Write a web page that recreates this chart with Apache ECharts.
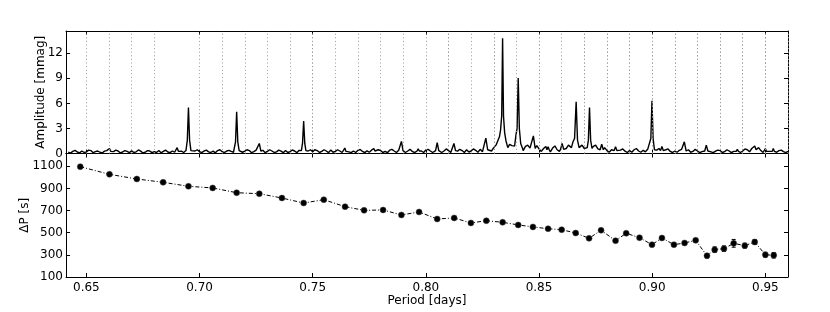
<!DOCTYPE html>
<html>
<head>
<meta charset="utf-8">
<script src="https://cdn.jsdelivr.net/npm/echarts@6/dist/echarts.min.js"></script>
<style>
html,body{margin:0;padding:0;background:#fff;}
#chart{width:830px;height:312px;}
</style>
</head>
<body>
<div id="chart"></div>
<script>
// ---------------- data ----------------
// Bottom panel: mode periods [days] and period spacing [s]
const periods = [0.6473,0.6602,0.6723,0.6839,0.6951,0.7058,0.7164,0.7264,0.7364,0.7460,
  0.7549,0.7643,0.7727,0.7811,0.7892,0.7970,0.8050,0.8125,0.8199,0.8267,
  0.8339,0.8408,0.8473,0.8540,0.8600,0.8662,0.8721,0.8774,0.8838,0.8885,
  0.8944,0.8999,0.9043,0.9096,0.9143,0.9192,0.9242,0.9276,0.9317,0.9360,
  0.9409,0.9453,0.9500,0.9537];
const deltaP = [1096,1027,985,955,919,904,861,852,813,768,
  798,735,702,705,660,687,624,633,588,608,
  594,570,552,536,527,497,449,522,428,495,
  455,392,452,392,407,431,292,347,356,404,
  383,416,301,296];
const deltaPErr = [8,8,8,8,8,8,8,8,8,8,
  8,8,8,8,8,8,8,8,8,8,
  8,8,8,8,8,8,10,10,10,10,
  10,10,12,14,14,15,20,25,25,35,
  22,22,22,25];
// Last mode (end of the sequence), also marked in the top panel
const lastModePeriod = 0.9571;

// Tick labels
const xTicks = [0.65,0.70,0.75,0.80,0.85,0.90,0.95];
const ampTicks = [0,3,6,9,12];
const dpTicks = [100,300,500,700,900,1100];

// Top panel: amplitude spectrum [period, amplitude (mmag)] - noise floor
const spectrumNoise = [
 [0.642,0.15],[0.644,0.25],[0.646,0.18],[0.648,0.30],[0.650,0.20],[0.652,0.35],[0.654,0.22],[0.656,0.15],[0.658,0.28],[0.660,0.20],
 [0.662,0.22],[0.664,0.30],[0.666,0.18],[0.668,0.25],[0.670,0.32],[0.672,0.20],[0.674,0.28],[0.676,0.15],[0.678,0.30],[0.680,0.22],
 [0.682,0.35],[0.684,0.25],[0.686,0.18],[0.688,0.30],[0.690,0.25],[0.692,0.28],[0.694,0.35],[0.696,0.40],[0.698,0.30],[0.700,0.22],
 [0.702,0.30],[0.704,0.20],[0.706,0.28],[0.708,0.35],[0.710,0.22],[0.712,0.30],[0.714,0.25],[0.716,0.35],[0.718,0.40],[0.720,0.28],
 [0.722,0.35],[0.724,0.22],[0.726,0.30],[0.728,0.38],[0.730,0.25],[0.732,0.30],[0.734,0.20],[0.736,0.28],[0.738,0.35],[0.740,0.22],
 [0.742,0.30],[0.744,0.38],[0.746,0.40],[0.748,0.30],[0.750,0.22],[0.752,0.35],[0.754,0.25],[0.756,0.30],[0.758,0.42],[0.760,0.25],
 [0.762,0.30],[0.764,0.35],[0.766,0.20],[0.768,0.30],[0.770,0.38],[0.772,0.25],[0.774,0.32],[0.776,0.40],[0.778,0.28],[0.780,0.35],
 [0.782,0.25],[0.784,0.40],[0.786,0.30],[0.788,0.38],[0.790,0.45],[0.792,0.30],[0.794,0.25],[0.796,0.38],[0.798,0.30],[0.800,0.42],
 [0.802,0.30],[0.804,0.38],[0.806,0.45],[0.808,0.30],[0.810,0.35],[0.812,0.40],[0.814,0.28],[0.816,0.35],[0.818,0.45],[0.820,0.30],
 [0.822,0.38],[0.824,0.50],[0.826,0.45],[0.828,0.55],[0.830,0.70],[0.832,0.90],[0.834,0.80],[0.836,0.75],[0.838,0.95],[0.840,0.80],
 [0.842,0.70],[0.844,0.85],[0.846,0.65],[0.848,0.70],[0.850,0.55],[0.852,0.60],[0.854,0.50],[0.856,0.65],[0.858,0.45],[0.860,0.70],
 [0.862,0.60],[0.864,0.80],[0.866,0.90],[0.868,0.75],[0.870,0.60],[0.872,0.70],[0.874,0.85],[0.876,0.55],[0.878,0.45],[0.880,0.35],
 [0.882,0.45],[0.884,0.30],[0.886,0.40],[0.888,0.28],[0.890,0.35],[0.892,0.45],[0.894,0.30],[0.896,0.38],[0.898,0.50],[0.900,0.55],
 [0.902,0.40],[0.904,0.35],[0.906,0.45],[0.908,0.25],[0.910,0.30],[0.912,0.38],[0.914,0.30],[0.916,0.45],[0.918,0.25],[0.920,0.30],
 [0.922,0.22],[0.924,0.35],[0.926,0.20],[0.928,0.28],[0.930,0.35],[0.932,0.22],[0.934,0.30],[0.936,0.25],[0.938,0.40],[0.940,0.30],
 [0.942,0.45],[0.944,0.60],[0.946,0.50],[0.948,0.35],[0.950,0.30],[0.952,0.25],[0.954,0.30],[0.956,0.35],[0.958,0.22],[0.960,0.25]
];
// finer jitter of the noise floor between the samples above
const spectrumNoiseFine = [
 [0.643,0.05],[0.645,0.38],[0.647,0.08],[0.649,0.12],[0.651,0.40],[0.653,0.10],[0.655,0.30],[0.657,0.06],[0.659,0.35],[0.661,0.10],
 [0.663,0.40],[0.665,0.08],[0.667,0.35],[0.669,0.10],[0.671,0.12],[0.673,0.42],[0.675,0.06],[0.677,0.35],[0.679,0.10],[0.681,0.12],
 [0.683,0.08],[0.685,0.40],[0.687,0.10],[0.689,0.15],[0.691,0.45],[0.693,0.12],[0.697,0.15],[0.699,0.45],[0.701,0.10],[0.703,0.40],
 [0.705,0.12],[0.707,0.08],[0.709,0.45],[0.711,0.10],[0.713,0.38],[0.715,0.15],[0.717,0.12],[0.719,0.15],[0.721,0.45],[0.723,0.10],
 [0.725,0.40],[0.727,0.12],[0.729,0.10],[0.731,0.45],[0.733,0.12],[0.735,0.40],[0.737,0.10],[0.739,0.12],[0.741,0.42],[0.743,0.10],
 [0.745,0.15],[0.747,0.12],[0.749,0.45],[0.751,0.10],[0.753,0.12],[0.755,0.45],[0.757,0.10],[0.759,0.15],[0.761,0.45],[0.763,0.12],
 [0.765,0.40],[0.767,0.10],[0.769,0.12],[0.771,0.48],[0.773,0.10],[0.775,0.15],[0.777,0.12],[0.779,0.45],[0.781,0.12],[0.783,0.10],
 [0.785,0.50],[0.787,0.12],[0.789,0.15],[0.791,0.12],[0.793,0.50],[0.795,0.10],[0.797,0.15],[0.799,0.12],[0.801,0.50],[0.803,0.12],
 [0.805,0.15],[0.807,0.12],[0.809,0.55],[0.811,0.12],[0.813,0.15],[0.815,0.50],[0.817,0.12],[0.819,0.18],[0.821,0.55],[0.823,0.15],
 [0.825,0.20],[0.827,0.25],[0.829,0.30],[0.831,1.00],[0.833,0.45],[0.835,0.40],[0.837,1.10],[0.839,0.45],[0.841,1.00],[0.843,0.35],
 [0.845,1.00],[0.847,0.30],[0.849,0.95],[0.851,0.25],[0.853,0.85],[0.855,0.20],[0.857,0.90],[0.859,0.25],[0.861,0.30],[0.863,1.00],
 [0.865,0.40],[0.867,0.45],[0.869,1.00],[0.871,0.30],[0.873,0.35],[0.875,1.00],[0.877,0.25],[0.879,0.70],[0.881,0.15],[0.883,0.60],
 [0.885,0.15],[0.887,0.55],[0.889,0.12],[0.891,0.15],[0.893,0.60],[0.895,0.15],[0.897,0.20],[0.899,0.25],[0.901,0.20],[0.903,0.60],
 [0.905,0.15],[0.907,0.55],[0.909,0.12],[0.911,0.15],[0.913,0.50],[0.915,0.12],[0.917,0.15],[0.919,0.50],[0.921,0.10],[0.923,0.12],
 [0.925,0.45],[0.927,0.10],[0.929,0.40],[0.931,0.12],[0.933,0.45],[0.935,0.10],[0.937,0.15],[0.939,0.12],[0.941,0.55],[0.943,0.20],
 [0.945,0.25],[0.947,0.70],[0.949,0.12],[0.951,0.45],[0.953,0.10],[0.955,0.15],[0.957,0.40],[0.959,0.10]
];
// Top panel: spectral peaks [period, amplitude]
const spectrumPeaks = [
 [[0.6596,0.25],[0.6602,0.60],[0.6608,0.25]],
 [[0.6895,0.25],[0.6901,0.70],[0.6907,0.25]],
 [[0.6940,0.35],[0.6946,1.6],[0.6951,5.50],[0.6956,1.6],[0.6962,0.35]],
 [[0.7153,0.35],[0.7159,1.4],[0.7164,5.00],[0.7169,1.4],[0.7175,0.35]],
 [[0.7257,0.30],[0.7264,1.20],[0.7271,0.30]],
 [[0.7450,0.35],[0.7455,1.2],[0.7460,3.90],[0.7465,1.2],[0.7470,0.35]],
 [[0.7505,0.25],[0.7509,0.45],[0.7513,0.25]],
 [[0.7637,0.25],[0.7642,0.65],[0.7647,0.25]],
 [[0.7765,0.30],[0.7770,0.60],[0.7775,0.30]],
 [[0.7885,0.35],[0.7892,1.45],[0.7899,0.35]],
 [[0.7961,0.30],[0.7966,0.55],[0.7971,0.30]],
 [[0.8043,0.35],[0.8050,1.30],[0.8057,0.35]],
 [[0.8117,0.35],[0.8124,1.20],[0.8131,0.35]],
 [[0.8257,0.40],[0.8265,1.85],[0.8273,0.45]],
 [[0.8318,0.80],[0.8325,2.00],[0.8330,2.80],[0.8335,4.5],[0.8339,13.8],[0.8343,4.5],[0.8348,2.5],[0.8354,1.5],[0.8362,0.7]],
 [[0.8392,0.9],[0.8398,2.20],[0.8403,3.0],[0.8408,9.05],[0.8413,3.0],[0.8419,1.2],[0.8426,0.7]],
 [[0.8467,0.6],[0.8475,2.10],[0.8483,0.6]],
 [[0.8535,0.45],[0.8540,0.80],[0.8545,0.45]],
 [[0.8595,0.5],[0.8602,1.20],[0.8609,0.5]],
 [[0.8643,0.7],[0.8650,1.40],[0.8657,1.8],[0.8664,6.20],[0.8670,1.6],[0.8677,0.7]],
 [[0.8713,0.7],[0.8718,1.6],[0.8723,5.50],[0.8728,1.6],[0.8734,0.6]],
 [[0.8770,0.45],[0.8777,1.10],[0.8784,0.45]],
 [[0.8832,0.35],[0.8838,0.80],[0.8844,0.35]],
 [[0.8988,0.50],[0.8994,1.8],[0.8999,6.30],[0.9004,1.8],[0.9010,0.45]],
 [[0.9037,0.35],[0.9043,0.85],[0.9049,0.35]],
 [[0.9134,0.30],[0.9142,1.40],[0.9150,0.30]],
 [[0.9232,0.30],[0.9239,1.00],[0.9246,0.30]],
 [[0.9371,0.25],[0.9376,0.50],[0.9381,0.25]],
 [[0.9447,0.45],[0.9453,0.90],[0.9459,0.45]],
 [[0.9495,0.25],[0.9500,0.60],[0.9505,0.25]],
 [[0.9530,0.25],[0.9535,0.60],[0.9540,0.25]]
];

// ---------------- build ----------------
function buildSpectrum() {
  const spans = spectrumPeaks.map(g => [g[0][0], g[g.length - 1][0]]);
  const noise = spectrumNoise.concat(spectrumNoiseFine);
  const pts = noise.filter(p => !spans.some(s => p[0] >= s[0] - 0.0003 && p[0] <= s[1] + 0.0003)).map(p => p.slice());
  spectrumPeaks.forEach(g => g.forEach(p => pts.push(p.slice())));
  pts.sort((a, b) => a[0] - b[0]);
  return pts;
}
const spectrum = buildSpectrum();
const dpData = periods.map((p, i) => [p, deltaP[i]]);
const errData = periods.map((p, i) => [p, deltaP[i] - deltaPErr[i], deltaP[i] + deltaPErr[i]]);
const modeLines = periods.concat([lastModePeriod]).map(p => ({ xAxis: p }));

const FONT = 'DejaVu Sans';
const XMIN = 0.641, XMAX = 0.96;
const black = '#000';

function xAx(grid, pos, labels) {
  return {
    type: 'value', gridIndex: grid, position: pos, min: XMIN, max: XMAX,
    axisLine: { show: true, onZero: false, lineStyle: { color: black, width: 1 } },
    axisTick: { show: true, inside: true, length: 4, lineStyle: { color: black }, customValues: xTicks },
    axisLabel: labels ? { show: true, customValues: xTicks, formatter: v => v.toFixed(2), color: black, fontFamily: FONT, fontSize: 12, margin: 5 } : { show: false },
    splitLine: { show: false }
  };
}
function yAx(grid, pos, min, max, ticks, labels, name, gap) {
  const a = {
    type: 'value', gridIndex: grid, position: pos, min: min, max: max,
    axisLine: { show: true, onZero: false, lineStyle: { color: black, width: 1 } },
    axisTick: { show: true, inside: true, length: 4, lineStyle: { color: black }, customValues: ticks },
    axisLabel: labels ? { show: true, customValues: ticks, formatter: v => String(v), color: black, fontFamily: FONT, fontSize: 12, margin: 3 } : { show: false },
    splitLine: { show: false }
  };
  if (name) {
    a.name = name; a.nameLocation = 'middle'; a.nameRotate = 90; a.nameGap = gap;
    a.nameMoveOverlap = false;
    a.nameTextStyle = { color: black, fontFamily: FONT, fontSize: 12 };
  }
  return a;
}

const xAxes = [xAx(0, 'bottom', false), xAx(0, 'top', false), xAx(1, 'bottom', true), xAx(1, 'top', false)];
xAxes[2].name = 'Period [days]';
xAxes[2].nameLocation = 'middle';
xAxes[2].nameGap = 18;
xAxes[2].nameMoveOverlap = false;
xAxes[2].nameTextStyle = { color: black, fontFamily: FONT, fontSize: 12, verticalAlign: 'top' };

const chart = echarts.init(document.getElementById('chart'), null, { renderer: 'canvas' });
chart.setOption({
  animation: false,
  backgroundColor: '#fff',
  grid: [
    { left: 66, right: 42, top: 31, height: 122.5 },
    { left: 66, right: 42, top: 153.5, height: 123.5 }
  ],
  xAxis: xAxes,
  yAxis: [
    yAx(0, 'left', 0, 14.67, ampTicks, true, 'Amplitude [mmag]', 19),
    yAx(0, 'right', 0, 14.67, ampTicks, false),
    yAx(1, 'left', 100, 1215, dpTicks, true, 'ΔP [s]', 35),
    yAx(1, 'right', 100, 1215, dpTicks, false)
  ],
  series: [
    {
      type: 'line', xAxisIndex: 0, yAxisIndex: 0, data: [], silent: true,
      markLine: {
        silent: true, symbol: ['none', 'none'], label: { show: false },
        lineStyle: { color: '#999', width: 1, type: [1, 2.6] },
        data: modeLines
      }
    },
    {
      type: 'line', xAxisIndex: 0, yAxisIndex: 0, data: spectrum,
      showSymbol: false, symbol: 'none', clip: true, z: 3,
      lineStyle: { color: black, width: 1.4 }
    },
    {
      type: 'custom', xAxisIndex: 2, yAxisIndex: 2, data: errData, z: 3,
      renderItem: function (params, api) {
        const x = api.value(0);
        const lo = api.coord([x, api.value(1)]);
        const hi = api.coord([x, api.value(2)]);
        const cw = 2;
        const st = { stroke: black, lineWidth: 1 };
        return {
          type: 'group', children: [
            { type: 'line', shape: { x1: lo[0], y1: lo[1], x2: hi[0], y2: hi[1] }, style: st },
            { type: 'line', shape: { x1: lo[0] - cw, y1: lo[1], x2: lo[0] + cw, y2: lo[1] }, style: st },
            { type: 'line', shape: { x1: hi[0] - cw, y1: hi[1], x2: hi[0] + cw, y2: hi[1] }, style: st }
          ]
        };
      }
    },
    {
      type: 'line', xAxisIndex: 2, yAxisIndex: 2, data: dpData, z: 4,
      symbol: 'circle', symbolSize: 6, showSymbol: true,
      itemStyle: { color: black, borderColor: '#444', borderWidth: 0.5 },
      lineStyle: { color: black, width: 1, type: [4, 2, 1, 2] }
    }
  ]
});
</script>
</body>
</html>
